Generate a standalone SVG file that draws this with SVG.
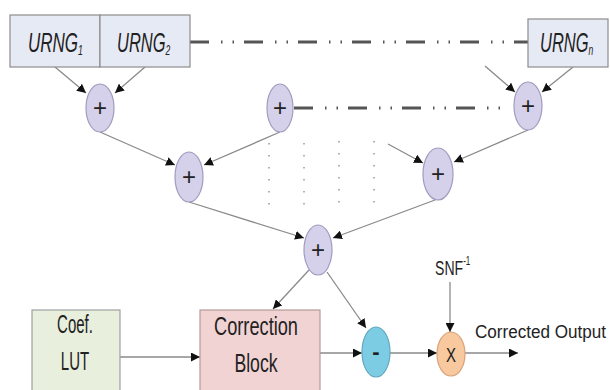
<svg xmlns="http://www.w3.org/2000/svg" width="610" height="390" viewBox="0 0 610 390">
<style>
.txt{font-family:"Liberation Sans",Arial,sans-serif;fill:#222}
.it{font-style:italic}
.box{stroke:#8c8c8c;stroke-width:1.2}
.urng{fill:#e6eaf5}
.sum{fill:#d6d1eb;stroke:#a19bbf;stroke-width:1.2}
.ln{stroke:#8a8a8a;stroke-width:1.3;fill:none}
.arr{marker-end:url(#ah)}
.dd{stroke:#555;stroke-width:3;fill:none;stroke-dasharray:19 12 1.5 10 1.5 10}
.dot{stroke:#999;stroke-width:1.5;fill:none;stroke-dasharray:1.5 10.5}
</style>
<defs>
<marker id="ah" viewBox="0 0 10 10" refX="10" refY="5" markerWidth="9" markerHeight="9" markerUnits="userSpaceOnUse" orient="auto">
<path d="M0,0 L10,5 L0,10 Z" fill="#111"/>
</marker>
</defs>

<g id="connectors">
<line class="dd" x1="190" y1="42" x2="528" y2="42"/>
<line class="dd" x1="294" y1="108" x2="500" y2="108"/>
<line class="dot" x1="269" y1="143" x2="269" y2="207"/>
<line class="dot" x1="304" y1="143" x2="304" y2="207"/>
<line class="dot" x1="339" y1="141" x2="339" y2="205"/>
<line class="dot" x1="374" y1="141" x2="374" y2="205"/>
<line class="ln arr" x1="55" y1="67" x2="86" y2="93"/>
<line class="ln arr" x1="145" y1="67" x2="115" y2="93"/>
<line class="ln arr" x1="485" y1="66" x2="515" y2="92"/>
<line class="ln arr" x1="573" y1="67" x2="542" y2="92"/>
<line class="ln arr" x1="100" y1="132" x2="175" y2="165"/>
<line class="ln arr" x1="280" y1="132" x2="204" y2="165"/>
<line class="ln arr" x1="528" y1="130" x2="454" y2="162"/>
<line class="ln arr" x1="388" y1="144" x2="423" y2="163"/>
<line class="ln arr" x1="189" y1="202" x2="304" y2="238"/>
<line class="ln arr" x1="435" y1="200" x2="333" y2="238"/>
<line class="ln arr" x1="309" y1="270" x2="273" y2="309"/>
<line class="ln arr" x1="327" y1="272" x2="366" y2="328"/>
<line class="ln arr" x1="120" y1="357" x2="200" y2="357"/>
<line class="ln arr" x1="320" y1="353" x2="362" y2="353"/>
<line class="ln arr" x1="390" y1="353" x2="437" y2="353"/>
<line class="ln arr" x1="465" y1="353" x2="518" y2="353"/>
<line class="ln arr" x1="450" y1="282" x2="450" y2="332"/>
</g>

<g id="urng1">
<rect class="box urng" x="10" y="15" width="90" height="52"/>
<text class="txt it" transform="translate(28,52) scale(0.63,1)" font-size="27">URNG<tspan font-size="14" dy="3">1</tspan></text>
</g>
<g id="urng2">
<rect class="box urng" x="100" y="15" width="90" height="52"/>
<text class="txt it" transform="translate(117,52) scale(0.61,1)" font-size="27">URNG<tspan font-size="14" dy="3">2</tspan></text>
</g>
<g id="urngn">
<rect class="box urng" x="528" y="19" width="80" height="48"/>
<text class="txt it" transform="translate(540,52) scale(0.61,1)" font-size="27">URNG<tspan font-size="14" dy="3">n</tspan></text>
</g>

<g id="sum1"><ellipse class="sum" cx="100" cy="108" rx="14" ry="24"/><text class="txt" x="100" y="116" font-size="24" text-anchor="middle">+</text></g>
<g id="sum2"><ellipse class="sum" cx="280" cy="108" rx="13" ry="24"/><text class="txt" x="280" y="116" font-size="24" text-anchor="middle">+</text></g>
<g id="sum3"><ellipse class="sum" cx="528" cy="106" rx="14" ry="24"/><text class="txt" x="528" y="114" font-size="24" text-anchor="middle">+</text></g>
<g id="sum4"><ellipse class="sum" cx="189" cy="177" rx="14" ry="25"/><text class="txt" x="189" y="185" font-size="24" text-anchor="middle">+</text></g>
<g id="sum5"><ellipse class="sum" cx="438" cy="174" rx="15" ry="26"/><text class="txt" x="438" y="182" font-size="24" text-anchor="middle">+</text></g>
<g id="sum6"><ellipse class="sum" cx="318" cy="250" rx="14" ry="25"/><text class="txt" x="318" y="258" font-size="24" text-anchor="middle">+</text></g>

<g id="coef">
<rect x="32" y="310" width="88" height="84" fill="#e9efdd" stroke="#a0a0a0" stroke-width="1.2"/>
<text class="txt" transform="translate(75,333) scale(0.6,1)" font-size="25" text-anchor="middle">Coef.</text>
<text class="txt" transform="translate(75,370) scale(0.6,1)" font-size="25" text-anchor="middle">LUT</text>
</g>
<g id="correction">
<rect x="200" y="310" width="120" height="84" fill="#f2d3d3" stroke="#b59a9a" stroke-width="1.2"/>
<text class="txt" transform="translate(256,335) scale(0.7,1)" font-size="26" text-anchor="middle">Correction</text>
<text class="txt" transform="translate(256,372) scale(0.68,1)" font-size="26" text-anchor="middle">Block</text>
</g>
<g id="minus">
<ellipse cx="376" cy="352" rx="14" ry="25" fill="#7ccde3" stroke="#62a8bf" stroke-width="1.2"/>
<text class="txt" x="376" y="359" font-size="22" font-weight="bold" text-anchor="middle">-</text>
</g>
<g id="mult">
<ellipse cx="451" cy="354" rx="14" ry="22" fill="#f8c89e" stroke="#d9a27a" stroke-width="1.2"/>
<text class="txt" transform="translate(451,362) scale(0.75,1)" font-size="20" text-anchor="middle">X</text>
</g>
<g id="snf">
<text class="txt" transform="translate(435,275) scale(0.67,1)" font-size="21">SNF<tspan font-size="12" dy="-10">-1</tspan></text>
</g>
<g id="output">
<text class="txt" transform="translate(475,338) scale(0.9,1)" font-size="19">Corrected Output</text>
</g>
</svg>
